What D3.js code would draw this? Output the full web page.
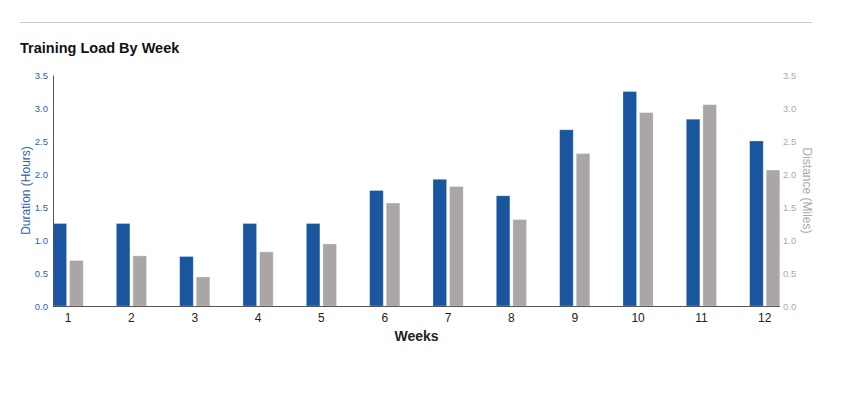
<!DOCTYPE html>
<html>
<head>
<meta charset="utf-8">
<script src="https://cdn.jsdelivr.net/npm/d3@7"></script>
<style>
  html, body { margin: 0; padding: 0; background: #fff; }
  svg { display: block; font-family: "Liberation Sans", Arial, sans-serif; }
</style>
</head>
<body>
<svg id="chart" width="846" height="393"></svg>
<script>
const weeks = ["1","2","3","4","5","6","7","8","9","10","11","12"];
const durationHours = [1.25, 1.25, 0.75, 1.25, 1.25, 1.75, 1.92, 1.67, 2.67, 3.25, 2.83, 2.5];
const distanceMiles = [0.69, 0.76, 0.44, 0.82, 0.94, 1.56, 1.81, 1.31, 2.31, 2.93, 3.05, 2.06];
const yTicks = [0, 0.5, 1.0, 1.5, 2.0, 2.5, 3.0, 3.5];

(function () {
const svg = d3.select("#chart");
const mLeft = 53, mRight = 780, mTop = 75, mBottom = 306;

svg.append("line").attr("x1", 20).attr("x2", 812).attr("y1", 22.5).attr("y2", 22.5)
  .attr("stroke", "#c8c8c8").attr("stroke-width", 1);

svg.append("text").attr("x", 20).attr("y", 53)
  .attr("font-size", 14.5).attr("font-weight", "bold").attr("fill", "#111")
  .text("Training Load By Week");

const x = d3.scaleBand().domain(weeks).range([mLeft, mLeft + 63.33 * 12]).paddingInner(0).paddingOuter(0);
const yL = d3.scaleLinear().domain([0, 3.5]).range([mBottom, mTop]);
const yR = d3.scaleLinear().domain([0, 3.5]).range([mBottom, mTop]);
const barW = 13.6, gap = 3;

const g = svg.append("g");
g.selectAll("rect.dur").data(weeks).join("rect").attr("class", "dur")
  .attr("x", d => x(d)).attr("width", barW)
  .attr("y", (d, i) => yL(durationHours[i])).attr("height", (d, i) => mBottom - yL(durationHours[i]))
  .attr("fill", "#1a56a0").attr("stroke", "rgba(255,255,255,0.35)").attr("stroke-width", 0.8);
g.selectAll("rect.dist").data(weeks).join("rect").attr("class", "dist")
  .attr("x", d => x(d) + barW + gap).attr("width", barW)
  .attr("y", (d, i) => yR(distanceMiles[i])).attr("height", (d, i) => mBottom - yR(distanceMiles[i]))
  .attr("fill", "#aaa6a5").attr("stroke", "rgba(255,255,255,0.35)").attr("stroke-width", 0.8);

// Left axis
const la = svg.append("g").attr("transform", `translate(${mLeft},0)`)
  .call(d3.axisLeft(yL).tickValues(yTicks).tickFormat(d3.format(".1f")).tickSize(0).tickPadding(5));
la.select(".domain").attr("stroke", "#555");
la.selectAll("text").attr("fill", "#2f62aa").attr("font-size", 9.5).attr("font-family", "Liberation Sans, Arial, sans-serif");

// Right axis
const ra = svg.append("g").attr("transform", `translate(${mRight},0)`)
  .call(d3.axisRight(yR).tickValues(yTicks).tickFormat(d3.format(".1f")).tickSize(0).tickPadding(3));
ra.select(".domain").remove();
ra.selectAll("text").attr("fill", "#aaa").attr("font-size", 9.5).attr("font-family", "Liberation Sans, Arial, sans-serif");

// Bottom axis
svg.append("line").attr("x1", mLeft).attr("x2", mRight).attr("y1", mBottom + 0.5).attr("y2", mBottom + 0.5)
  .attr("stroke", "#555").attr("stroke-width", 1);
const ba = svg.append("g").attr("transform", `translate(${barW + gap / 2},${mBottom})`)
  .call(d3.axisBottom(x).tickSize(0).tickPadding(7).tickSizeOuter(0));
ba.select(".domain").remove();
ba.selectAll(".tick").attr("transform", d => `translate(${x(d)},0)`);
ba.selectAll("text").attr("fill", "#222").attr("font-size", 12).attr("font-family", "Liberation Sans, Arial, sans-serif");

// Axis titles
svg.append("text").attr("x", (mLeft + mRight) / 2).attr("y", 341)
  .attr("text-anchor", "middle").attr("font-size", 14).attr("font-weight", "bold").attr("fill", "#222")
  .text("Weeks");
svg.append("text").attr("transform", `translate(30,${(mTop + mBottom) / 2}) rotate(-90)`)
  .attr("text-anchor", "middle").attr("font-size", 12).attr("fill", "#2f62aa")
  .text("Duration (Hours)");
svg.append("text").attr("transform", `translate(803,${(mTop + mBottom) / 2}) rotate(90)`)
  .attr("text-anchor", "middle").attr("font-size", 12).attr("fill", "#aaa")
  .text("Distance (Miles)");
})();
</script>
</body>
</html>
